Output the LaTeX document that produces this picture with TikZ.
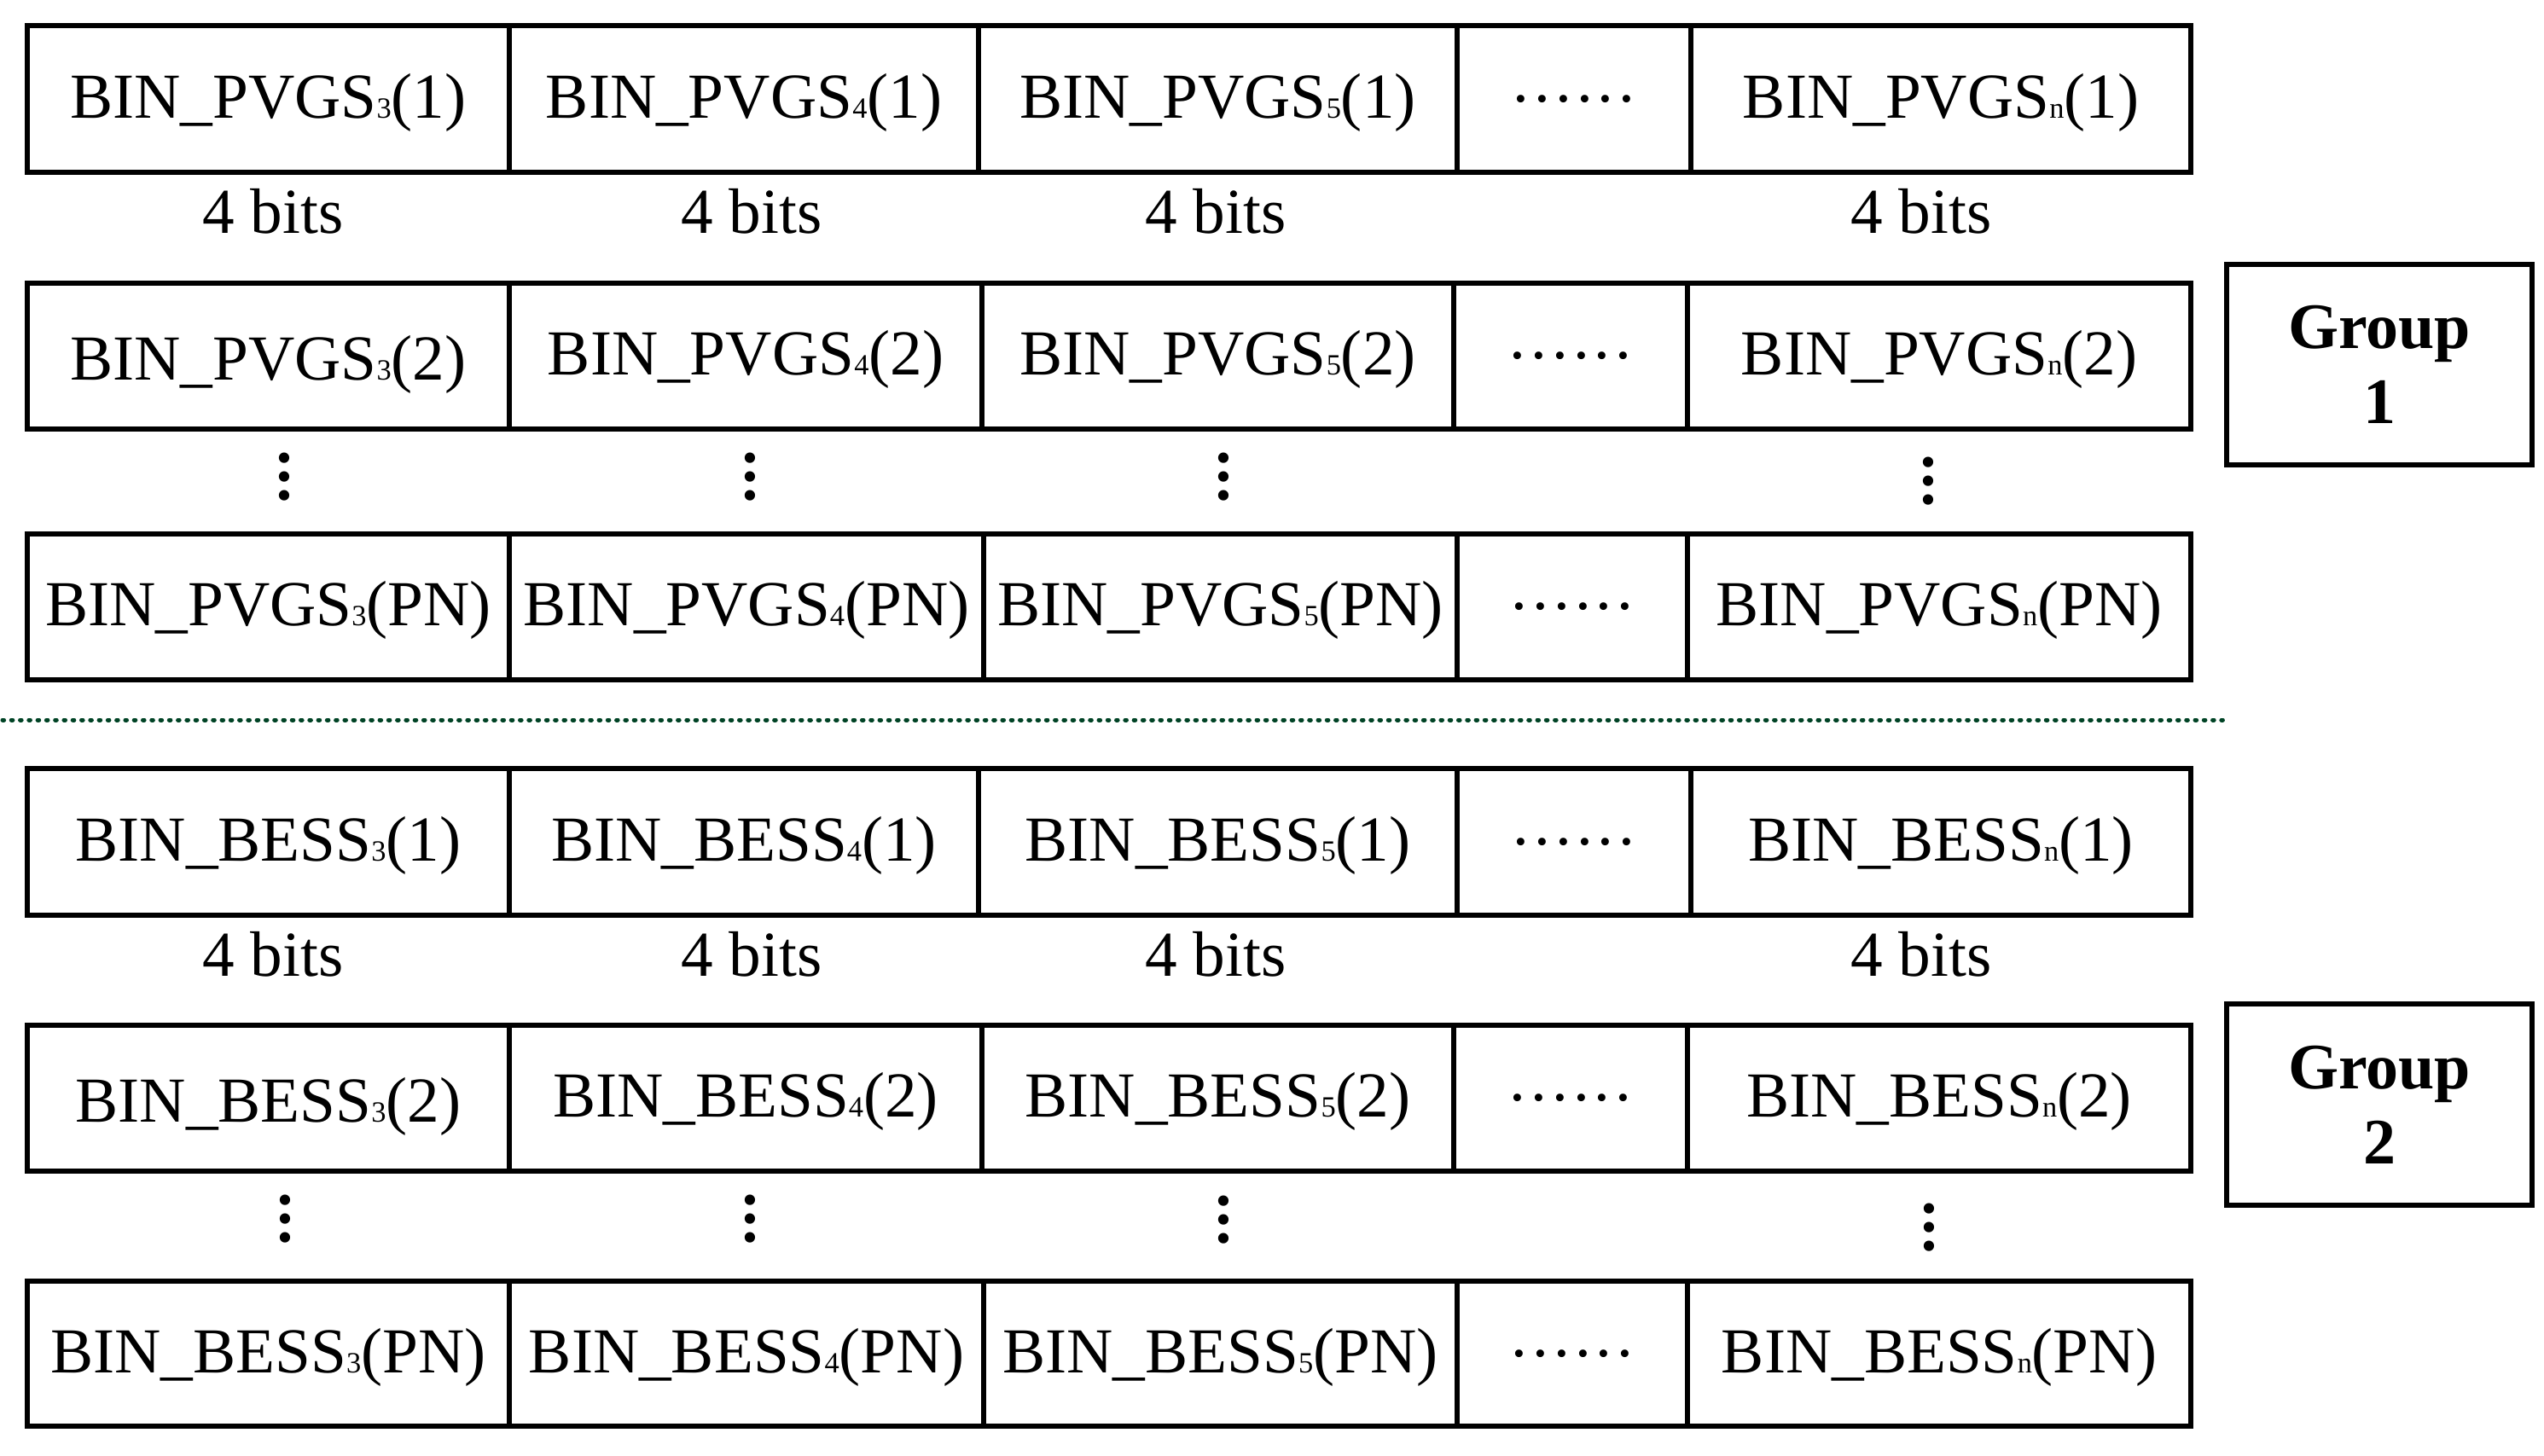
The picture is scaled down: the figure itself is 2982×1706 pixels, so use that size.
\documentclass[tikz,border=0pt]{standalone}
\usepackage{fontspec}
\setmainfont{Liberation Serif}
\definecolor{dotgreen}{RGB}{0,67,37}
\newcommand\sbs[1]{{\fontsize{8.6}{8.6}\selectfont #1}}
\newcommand\vdotsx{.\kern0.9pt.\kern0.9pt.}
\newcommand\hdotsx{.\kern1.5pt.\kern1.5pt.\kern1.5pt.\kern1.5pt.\kern1.5pt.}
% cell: name, x1, y1, x2, y2, style, text
\newcommand\cellnode[7]{\node[#6, minimum width={(#4-#2)*0.25pt}, minimum height={(#5-#3)*0.25pt}] (#1) at ({(#2+#4)/2},{(#3+#5)/2}) {#7};}
\begin{document}
\begin{tikzpicture}[x=0.25pt,y=-0.25pt,
  cellbox/.style={draw, line width=1.33pt, inner sep=0pt, text height=11pt, text depth=0pt, font=\fontsize{18.8}{22}\selectfont},
  lowbox/.style={cellbox, text height=14pt},
  dotbox/.style={draw, line width=1.33pt, inner sep=0pt, font=\fontsize{18.8}{22}\selectfont},
  bitlbl/.style={anchor=base, inner sep=0pt, font=\fontsize{18.8}{22}\selectfont},
  vdotnode/.style={inner sep=0pt, rotate=90, font=\fontsize{18.8}{22}\selectfont\bfseries},
  grpbox/.style={draw, line width=1.33pt, inner sep=0pt, align=center, font=\fontsize{19}{22}\selectfont\bfseries},
  sepline/.style={draw=dotgreen, line width=1.25pt, line cap=round, dash pattern=on 0.4pt off 2.17pt}]
\useasboundingbox (0,0) rectangle (2982,1706);

% Row 1
\cellnode{a1}{32}{30}{597}{202}{cellbox}{BIN\_PVGS\sbs{3}(1)}
\cellnode{a2}{597}{30}{1147}{202}{cellbox}{BIN\_PVGS\sbs{4}(1)}
\cellnode{a3}{1147}{30}{1708}{202}{cellbox}{BIN\_PVGS\sbs{5}(1)}
\cellnode{a4}{1708}{30}{1982}{202}{dotbox}{\hdotsx}
\cellnode{a5}{1982}{30}{2568}{202}{cellbox}{BIN\_PVGS\sbs{n}(1)}
% Row 2
\cellnode{b1}{32}{332}{597}{503}{lowbox}{BIN\_PVGS\sbs{3}(2)}
\cellnode{b2}{597}{332}{1151}{503}{cellbox}{BIN\_PVGS\sbs{4}(2)}
\cellnode{b3}{1151}{332}{1704}{503}{cellbox}{BIN\_PVGS\sbs{5}(2)}
\cellnode{b4}{1704}{332}{1978}{503}{dotbox}{\hdotsx}
\cellnode{b5}{1978}{332}{2568}{503}{cellbox}{BIN\_PVGS\sbs{n}(2)}
% Row 3
\cellnode{c1}{32}{626}{597}{797}{cellbox}{BIN\_PVGS\sbs{3}(PN)}
\cellnode{c2}{597}{626}{1153}{797}{cellbox}{BIN\_PVGS\sbs{4}(PN)}
\cellnode{c3}{1153}{626}{1708}{797}{cellbox}{BIN\_PVGS\sbs{5}(PN)}
\cellnode{c4}{1708}{626}{1978}{797}{dotbox}{\hdotsx}
\cellnode{c5}{1978}{626}{2568}{797}{cellbox}{BIN\_PVGS\sbs{n}(PN)}
% Row 4
\cellnode{d1}{32}{901}{597}{1073}{cellbox}{BIN\_BESS\sbs{3}(1)}
\cellnode{d2}{597}{901}{1147}{1073}{cellbox}{BIN\_BESS\sbs{4}(1)}
\cellnode{d3}{1147}{901}{1708}{1073}{cellbox}{BIN\_BESS\sbs{5}(1)}
\cellnode{d4}{1708}{901}{1982}{1073}{dotbox}{\hdotsx}
\cellnode{d5}{1982}{901}{2568}{1073}{cellbox}{BIN\_BESS\sbs{n}(1)}
% Row 5
\cellnode{e1}{32}{1202}{597}{1373}{lowbox}{BIN\_BESS\sbs{3}(2)}
\cellnode{e2}{597}{1202}{1151}{1373}{cellbox}{BIN\_BESS\sbs{4}(2)}
\cellnode{e3}{1151}{1202}{1704}{1373}{cellbox}{BIN\_BESS\sbs{5}(2)}
\cellnode{e4}{1704}{1202}{1978}{1373}{dotbox}{\hdotsx}
\cellnode{e5}{1978}{1202}{2568}{1373}{cellbox}{BIN\_BESS\sbs{n}(2)}
% Row 6
\cellnode{f1}{32}{1502}{597}{1672}{cellbox}{BIN\_BESS\sbs{3}(PN)}
\cellnode{f2}{597}{1502}{1153}{1672}{cellbox}{BIN\_BESS\sbs{4}(PN)}
\cellnode{f3}{1153}{1502}{1708}{1672}{cellbox}{BIN\_BESS\sbs{5}(PN)}
\cellnode{f4}{1708}{1502}{1978}{1672}{dotbox}{\hdotsx}
\cellnode{f5}{1978}{1502}{2568}{1672}{cellbox}{BIN\_BESS\sbs{n}(PN)}

% bit labels
\node[bitlbl] (la1) at (320,273) {4 bits};
\node[bitlbl] (la2) at (881,273) {4 bits};
\node[bitlbl] (la3) at (1425,273) {4 bits};
\node[bitlbl] (la5) at (2252,273) {4 bits};
\node[bitlbl] (ld1) at (320,1144) {4 bits};
\node[bitlbl] (ld2) at (881,1144) {4 bits};
\node[bitlbl] (ld3) at (1425,1144) {4 bits};
\node[bitlbl] (ld5) at (2252,1144) {4 bits};

% vertical dots
\node[vdotnode] (v1) at (333,559) {\vdotsx};
\node[vdotnode] (v2) at (879,559) {\vdotsx};
\node[vdotnode] (v3) at (1434,559) {\vdotsx};
\node[vdotnode] (v4) at (2260,564) {\vdotsx};
\node[vdotnode] (w1) at (334,1429) {\vdotsx};
\node[vdotnode] (w2) at (879,1429) {\vdotsx};
\node[vdotnode] (w3) at (1434,1430) {\vdotsx};
\node[vdotnode] (w4) at (2261,1439) {\vdotsx};

% group boxes
\cellnode{g1}{2610}{310}{2968}{545}{grpbox}{Group\\1}
\cellnode{g2}{2610}{1177}{2968}{1413}{grpbox}{Group\\2}

% separator
\coordinate (sl) at (3,844);
\coordinate (sr) at (2613,844);
\draw[sepline] (sl) -- (sr);
\end{tikzpicture}
\end{document}
